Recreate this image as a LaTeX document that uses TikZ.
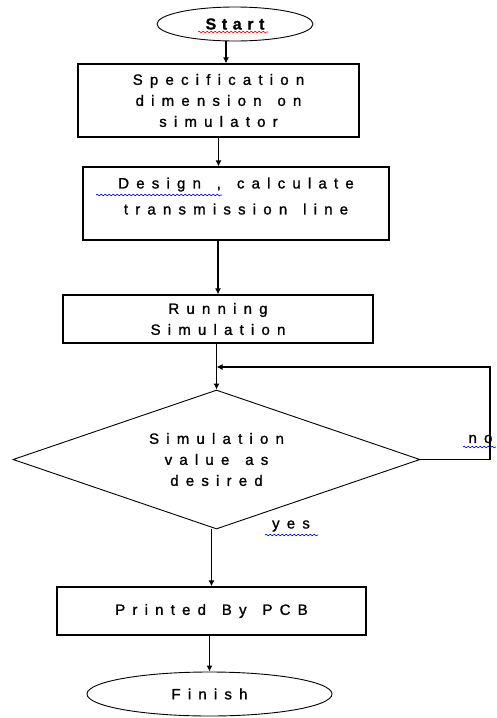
\documentclass[tikz,border=0pt]{standalone}
\usepackage{fontspec}
\setmainfont{Liberation Sans}[LetterSpace=48, WordSpace=1.4, FakeBold=1.2]
\newfontfamily\startfont{Liberation Sans}[LetterSpace=35, FakeBold=1]
\usetikzlibrary{arrows.meta, shapes.geometric, decorations.pathmorphing}

\begin{document}
\begin{tikzpicture}[x=1pt, y=-1pt,
  font=\fontsize{15}{21}\selectfont,
  flowbox/.style={draw, line width=1.2pt, rectangle, inner sep=0pt, align=center},
  term/.style={draw, line width=0.9pt, ellipse, inner sep=0pt, align=center},
  arr/.style={-{Latex[length=6pt, width=6pt]}, line width=1.3pt},
  squiggle/.style={decorate, decoration={snake, amplitude=0.8pt, segment length=4pt}, line width=0.6pt}]

	\useasboundingbox (0,0) rectangle (496,718);

	% terminals and steps
	\node[term, minimum width=156pt, minimum height=34pt] (start) at (235,24) {\fontsize{16}{16}\startfont\bfseries Start};
	\node[flowbox, minimum width=281pt, minimum height=73pt] (spec) at (218.5,100.5) {Specification\\dimension on\\simulator};
	\node[flowbox, minimum width=306pt, minimum height=73pt] (design) at (236,203.5) {Design , calculate\\[5pt]transmission line\\[-6pt]};
	\node[flowbox, minimum width=310pt, minimum height=48pt] (run) at (218,319) {Running\\Simulation};
	\node[draw, diamond, aspect=2.93, line width=0.9pt, inner sep=0pt, align=center,
	  minimum width=407pt, minimum height=139pt] (check) at (216.5,459.5) {Simulation\\value as\\desired};
	\node[flowbox, minimum width=309pt, minimum height=48pt] (pcb) at (211.5,611) {Printed By PCB};
	\node[term, minimum width=245pt, minimum height=44pt] (finish) at (209.5,694) {Finish};

	\node (yes) at (291,526) {yes};
	\node[anchor=west] (no) at (465,439) {no};

	% connectors
	\draw[arr] ([xshift=-9pt]start.south) -- ([xshift=-9pt]start.south |- spec.north);
	\draw[arr] (spec.south) -- (spec.south |- design.north);
	\draw[arr] (run.north |- design.south) -- (run.north);
	\draw[arr] (check.north |- run.south) -- (check.north);
	\coordinate (loopR) at (490,367);
	\draw[arr] (check.east) -| (loopR) -- (check.north |- loopR);
	\draw[arr] (pcb.north |- check.south) -- (pcb.north);
	\draw[arr] (pcb.south -| finish.north) -- (finish.north);

	% spell-check marks
	\draw[squiggle, red] (198,32) -- (268,32);
	\draw[squiggle, blue] (96,195) -- (222,195);
	\draw[squiggle, blue] (265,535) -- (318,535);
	\draw[squiggle, blue] (463,447) -- (496,447);

\end{tikzpicture}
\end{document}
